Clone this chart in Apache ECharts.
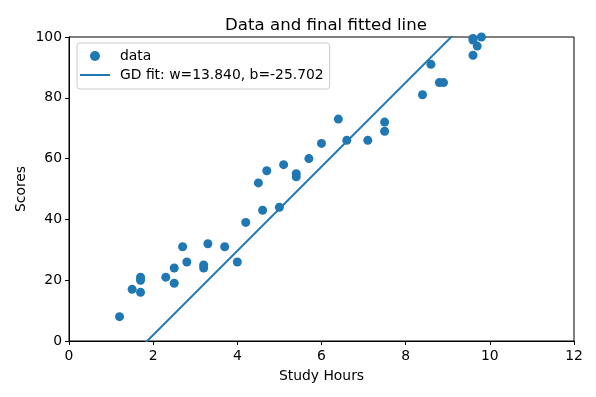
<!DOCTYPE html>
<html>
<head>
<meta charset="utf-8">
<script src="https://cdn.jsdelivr.net/npm/echarts@6/dist/echarts.min.js"></script>
<style>
  html, body { margin: 0; padding: 0; background: #fff; }
  #chart { width: 596px; height: 397px; }
</style>
</head>
<body>
<div id="chart"></div>
<script>
// study hours / scores
const hours = [1.2, 1.5, 1.7, 1.7, 1.7, 2.3, 2.5, 2.5, 2.7, 2.8, 3.2, 3.2, 3.3, 3.7, 4.0, 4.2, 4.5, 4.6, 4.7, 5.0,
  5.1, 5.4, 5.4, 5.7, 6.0, 6.4, 6.6, 7.1, 7.5, 7.5, 8.4, 8.6, 8.8, 8.9, 9.6, 9.7, 9.6, 9.6, 9.8]
const scores = [8, 17, 21, 20, 16, 21, 24, 19, 31, 26, 25, 24, 32, 31, 26, 39, 52, 43, 56, 44,
  58, 55, 54, 60, 65, 73, 66, 66, 72, 69, 81, 91, 85, 85, 94, 97, 99, 99.5, 100]

// fitted line parameters (from the legend)
const w = 13.840
const b = -25.702
const fitX = [0, 12]

const xTicks = [0, 2, 4, 6, 8, 10, 12]
const yTicks = [0, 20, 40, 60, 80, 100]

const blue = '#1f77b4'
const font = 'DejaVu Sans'
const fs = 13.9

const points = hours.map((h, i) => [h, scores[i]])
const fitLine = fitX.map(x => [x, w * x + b])
const fitName = 'GD fit: w=' + w.toFixed(3) + ', b=' + b.toFixed(3)

const chart = echarts.init(document.getElementById('chart'))

chart.setOption({
  animation: false,
  textStyle: { fontFamily: font },
  title: {
    text: 'Data and final fitted line',
    left: 321,
    textAlign: 'center',
    top: 12,
    textStyle: { fontFamily: font, fontSize: 16.6, fontWeight: 'normal', color: '#000' },
  },
  legend: {
    orient: 'vertical',
    left: 77,
    top: 43,
    padding: [5, 6, 6, 3],
    itemGap: 3,
    itemWidth: 30,
    itemHeight: 10,
    borderColor: '#ccc',
    borderWidth: 1,
    borderRadius: 3,
    backgroundColor: 'rgba(255,255,255,0.8)',
    textStyle: { fontFamily: font, fontSize: fs, lineHeight: 16, color: '#000', padding: [0, 0, 0, 5] },
    data: [
      { name: 'data', icon: 'circle' },
      { name: fitName, icon: 'path://M0,0 L30,0 L30,2 L0,2 Z' },
    ],
  },
  grid: {
    left: 69,
    top: 37,
    right: 22,
    bottom: 56,
    show: true,
    borderColor: '#000',
    borderWidth: 1,
    containLabel: false,
  },
  xAxis: {
    type: 'value',
    min: xTicks[0],
    max: xTicks[xTicks.length - 1],
    interval: 2,
    name: 'Study Hours',
    nameLocation: 'middle',
    nameGap: 28,
    nameMoveOverlap: false,
    nameTextStyle: { fontFamily: font, fontSize: fs, color: '#000' },
    axisLine: { show: true, onZero: false, lineStyle: { color: '#000', width: 1 } },
    axisTick: { show: true, length: 4, lineStyle: { color: '#000' } },
    axisLabel: { fontFamily: font, fontSize: fs, color: '#000', margin: 8 },
    splitLine: { show: false },
  },
  yAxis: {
    type: 'value',
    min: yTicks[0],
    max: yTicks[yTicks.length - 1],
    interval: 20,
    name: 'Scores',
    nameLocation: 'middle',
    nameGap: 41,
    nameMoveOverlap: false,
    nameTextStyle: { fontFamily: font, fontSize: fs, color: '#000' },
    axisLine: { show: true, onZero: false, lineStyle: { color: '#000', width: 1 } },
    axisTick: { show: true, length: 4, lineStyle: { color: '#000' } },
    axisLabel: { fontFamily: font, fontSize: fs, color: '#000', margin: 7 },
    splitLine: { show: false },
  },
  series: [
    {
      name: 'data',
      type: 'scatter',
      symbol: 'circle',
      symbolSize: 9,
      clip: true,
      itemStyle: { color: blue, opacity: 1 },
      data: points,
      z: 3,
    },
    {
      name: fitName,
      type: 'line',
      showSymbol: false,
      symbol: 'none',
      clip: true,
      lineStyle: { color: blue, width: 2 },
      itemStyle: { color: blue },
      data: fitLine,
      z: 2,
    },
  ],
})
</script>
</body>
</html>
